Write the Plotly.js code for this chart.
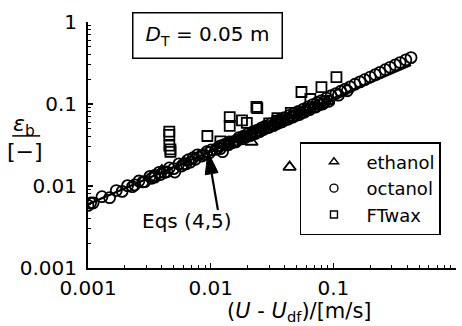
<!DOCTYPE html>
<html>
<head>
<meta charset="utf-8">
<script src="https://cdn.plot.ly/plotly-3.0.1.min.js"></script>
<style>html,body{margin:0;padding:0;background:#fff}#chart{width:462px;height:326px}</style>
</head>
<body>
<div id="chart"></div>
<script>
// Octanol (circles)
const octanolX = [0.001, 0.00105, 0.0011, 0.0013, 0.0015, 0.0017, 0.0019, 0.0021, 0.0023, 0.0026, 0.0029, 0.0032, 0.0035, 0.0038, 0.0042, 0.0046, 0.005, 0.0051, 0.0055, 0.006, 0.0066, 0.0072, 0.0078, 0.0085, 0.0093, 0.0101, 0.011, 0.012, 0.013, 0.0142, 0.0155, 0.017, 0.0185, 0.02, 0.022, 0.024, 0.026, 0.028, 0.031, 0.034, 0.037, 0.04, 0.044, 0.048, 0.052, 0.057, 0.062, 0.068, 0.074, 0.08, 0.088, 0.096, 0.105, 0.115, 0.125, 0.137, 0.15, 0.165, 0.18, 0.2, 0.22, 0.24, 0.265, 0.29, 0.32, 0.35, 0.39, 0.43,
  0.012, 0.014, 0.016, 0.019, 0.021, 0.023, 0.025, 0.027, 0.03, 0.033, 0.036, 0.039, 0.042, 0.046, 0.05, 0.055, 0.06, 0.065, 0.07, 0.077, 0.085, 0.0125, 0.0068, 0.0035,
  0.0024, 0.0028, 0.0033, 0.0039, 0.0044, 0.0058, 0.0063, 0.0075, 0.0088, 0.0098, 0.0115, 0.0135, 0.015, 0.0165, 0.018, 0.0195, 0.0215, 0.0235, 0.0255, 0.029, 0.032, 0.035, 0.038, 0.043, 0.047, 0.053, 0.058, 0.064, 0.072, 0.082, 0.092, 0.11, 0.13];
const octanolY = [0.0058, 0.0062, 0.0062, 0.0074, 0.0072, 0.0088, 0.0086, 0.0101, 0.0098, 0.0115, 0.0113, 0.0131, 0.0128, 0.0147, 0.0146, 0.0166, 0.0163, 0.0148, 0.0186, 0.0184, 0.0209, 0.0221, 0.024, 0.0232, 0.0262, 0.0275, 0.0279, 0.0309, 0.0322, 0.0345, 0.0349, 0.039, 0.0405, 0.0431, 0.0458, 0.048, 0.0512, 0.0537, 0.0575, 0.061, 0.0648, 0.068, 0.0725, 0.0772, 0.0815, 0.0868, 0.092, 0.0985, 0.1045, 0.11, 0.118, 0.126, 0.134, 0.143, 0.152, 0.162, 0.174, 0.186, 0.198, 0.213, 0.228, 0.243, 0.262, 0.28, 0.3, 0.32, 0.345, 0.368,
  0.0285, 0.0318, 0.0345, 0.039, 0.041, 0.0435, 0.046, 0.049, 0.052, 0.055, 0.059, 0.062, 0.065, 0.069, 0.073, 0.078, 0.083, 0.088, 0.092, 0.098, 0.106, 0.0262, 0.0195, 0.0135,
  0.0103, 0.0112, 0.0124, 0.0138, 0.0149, 0.0175, 0.0186, 0.0212, 0.0242, 0.0255, 0.0292, 0.0318, 0.0338, 0.0362, 0.0375, 0.0398, 0.0425, 0.0448, 0.0472, 0.0512, 0.0545, 0.0578, 0.0605, 0.0655, 0.0695, 0.0745, 0.0795, 0.0852, 0.0918, 0.1, 0.108, 0.128, 0.145];

// Ethanol (triangles)
const ethanolX = [0.004, 0.006, 0.008, 0.011, 0.014, 0.017, 0.0215, 0.026, 0.03, 0.036, 0.044, 0.05, 0.06, 0.075, 0.09];
const ethanolY = [0.0155, 0.0195, 0.0235, 0.029, 0.034, 0.038, 0.0344, 0.048, 0.053, 0.059, 0.017, 0.072, 0.082, 0.095, 0.108];

// FTwax (squares)
const ftwaxX = [0.0046, 0.0046, 0.0046, 0.0047, 0.0047, 0.0094, 0.0143, 0.0143, 0.018, 0.0197, 0.0236, 0.024, 0.035, 0.035, 0.055, 0.08, 0.106, 0.012, 0.03, 0.045, 0.065];
const ftwaxY = [0.046, 0.042, 0.031, 0.028, 0.026, 0.0407, 0.069, 0.054, 0.063, 0.059, 0.092, 0.089, 0.062, 0.067, 0.14, 0.161, 0.213, 0.035, 0.058, 0.078, 0.115];

// Eqs (4,5) correlation line
const eqX = [0.001, 0.002, 0.005, 0.01, 0.02, 0.05, 0.1, 0.2, 0.43];
const eqY = [0.006, 0.0094, 0.0169, 0.0265, 0.0414, 0.0748, 0.117, 0.183, 0.300];

const decadeVals = [0.001, 0.01, 0.1, 1];
const decadeText = ['0.001', '0.01', '0.1', '1'];
const seriesNames = ['ethanol', 'octanol', 'FTwax'];

const minorVals = [];
for (let i = 0; i < decadeVals.length - 1; i++) {
  for (let k = 2; k <= 9; k++) minorVals.push(+(k * decadeVals[i]).toPrecision(3));
}

const FONT = 'DejaVu Sans, Liberation Sans, Arial, sans-serif';
const blk = '#000';

const traces = [
  {x: eqX, y: eqY, mode: 'lines', line: {color: blk, width: 2.4}, showlegend: false, hoverinfo: 'skip'},
  {x: octanolX, y: octanolY, mode: 'markers', showlegend: false,
   marker: {symbol: 'circle-open', size: 11, color: blk, line: {width: 1.8, color: blk}}},
  {x: ethanolX, y: ethanolY, mode: 'markers', showlegend: false,
   marker: {symbol: 'triangle-up-open', size: 11, color: blk, line: {width: 1.8, color: blk}}},
  {x: ftwaxX, y: ftwaxY, mode: 'markers', showlegend: false,
   marker: {symbol: 'square-open', size: 10, color: blk, line: {width: 1.8, color: blk}}},
  // legend entries
  {x: [null], y: [null], mode: 'markers', name: seriesNames[0],
   marker: {symbol: 'triangle-up-open', size: 8, color: blk, line: {width: 1.4, color: blk}}},
  {x: [null], y: [null], mode: 'markers', name: seriesNames[1],
   marker: {symbol: 'circle-open', size: 8, color: blk, line: {width: 1.4, color: blk}}},
  {x: [null], y: [null], mode: 'markers', name: seriesNames[2],
   marker: {symbol: 'square-open', size: 7, color: blk, line: {width: 1.4, color: blk}}}
];

// arrow geometry (plot area in px)
const W = 368, H = 246;
const tip = [0.0095, 0.026];
const tipP = [(Math.log10(tip[0]) + 3) / 3, (Math.log10(tip[1]) + 3) / 3];
const tailDx = 10, tailDy = 58; // screen px, tail relative to tip
const L = Math.hypot(tailDx, tailDy);
const ux = -tailDx / L, uy = -tailDy / L; // unit from tail to tip (screen)
const headLen = 22, headHalf = 6.5;
function toPaper(sx, sy) { return [tipP[0] + sx / W, tipP[1] - sy / H]; }
const tailP = toPaper(tailDx, tailDy);
const baseS = [-ux * headLen, -uy * headLen];
const pA = toPaper(baseS[0] + (-uy) * headHalf, baseS[1] + ux * headHalf);
const pB = toPaper(baseS[0] - (-uy) * headHalf, baseS[1] - ux * headHalf);
const baseP = toPaper(baseS[0], baseS[1]);

const layout = {
  width: 462, height: 326,
  margin: {l: 88, r: 6, t: 22, b: 58},
  paper_bgcolor: '#fff', plot_bgcolor: '#fff',
  font: {family: FONT, color: blk, size: 20},
  showlegend: true,
  xaxis: {
    type: 'log', range: [-3, 0], showgrid: false, zeroline: false,
    showline: true, linecolor: blk, linewidth: 2, mirror: false,
    ticks: 'inside', ticklen: 5, tickwidth: 1.2, tickcolor: blk,
    tickmode: 'array', tickvals: decadeVals, ticktext: decadeText,
    tickfont: {family: FONT, size: 20, color: blk}, ticklabelstandoff: 1,
    minor: {tickmode: 'array', tickvals: minorVals, ticks: 'inside', ticklen: 3, tickwidth: 1, tickcolor: blk, showgrid: false}
  },
  yaxis: {
    type: 'log', range: [-3, 0], showgrid: false, zeroline: false,
    showline: true, linecolor: blk, linewidth: 2, mirror: false,
    ticks: 'inside', ticklen: 5, tickwidth: 1.2, tickcolor: blk,
    tickmode: 'array', tickvals: decadeVals, ticktext: decadeText,
    tickfont: {family: FONT, size: 20, color: blk}, ticklabelstandoff: 5,
    minor: {tickmode: 'array', tickvals: minorVals, ticks: 'inside', ticklen: 3, tickwidth: 1, tickcolor: blk, showgrid: false}
  },
  legend: {
    x: 0.576, y: 0.512, xanchor: 'left', yanchor: 'top',
    bgcolor: '#fff', bordercolor: blk, borderwidth: 1.5,
    font: {family: FONT, size: 18, color: blk},
    itemwidth: 55, tracegroupgap: 0
  },
  shapes: [
    {type: 'line', xref: 'paper', yref: 'paper', x0: tailP[0], y0: tailP[1], x1: baseP[0], y1: baseP[1], line: {color: blk, width: 2.2}},
    {type: 'path', xref: 'paper', yref: 'paper',
     path: `M ${tipP[0]} ${tipP[1]} L ${pA[0]} ${pA[1]} L ${pB[0]} ${pB[1]} Z`,
     fillcolor: blk, line: {color: blk, width: 1}},
    {type: 'line', xref: 'paper', yref: 'paper', x0: -0.206, x1: -0.13, y0: 0.537, y1: 0.537, line: {color: blk, width: 1.5}}
  ],
  annotations: [
    {xref: 'paper', yref: 'paper', x: 0.326, y: 0.945, xanchor: 'center', yanchor: 'middle',
     text: '<i>D</i><sub>T</sub> = 0.05 m', showarrow: false,
     font: {family: FONT, size: 20, color: blk},
     bordercolor: blk, borderwidth: 1.5, borderpad: 6, width: 136, height: 32, bgcolor: '#fff'},
    {xref: 'paper', yref: 'paper', x: 0.27, y: 0.19, xanchor: 'center', yanchor: 'middle',
     text: 'Eqs (4,5)', showarrow: false, font: {family: FONT, size: 20, color: blk}},
    {xref: 'paper', yref: 'paper', x: 0.576, y: -0.178, xanchor: 'center', yanchor: 'middle',
     text: '(<i>U</i> - <i>U</i><sub>df</sub>)/[m/s]', showarrow: false, font: {family: FONT, size: 21, color: blk}},
    {xref: 'paper', yref: 'paper', x: -0.175, y: 0.578, xanchor: 'center', yanchor: 'middle',
     text: '<i>ε</i><sub>b</sub>', showarrow: false, font: {family: FONT, size: 22, color: blk}},
    {xref: 'paper', yref: 'paper', x: -0.172, y: 0.472, xanchor: 'center', yanchor: 'middle',
     text: '[−]', showarrow: false, font: {family: FONT, size: 22, color: blk}}
  ]
};

Plotly.newPlot('chart', traces, layout, {displayModeBar: false, staticPlot: true});
</script>
</body>
</html>
